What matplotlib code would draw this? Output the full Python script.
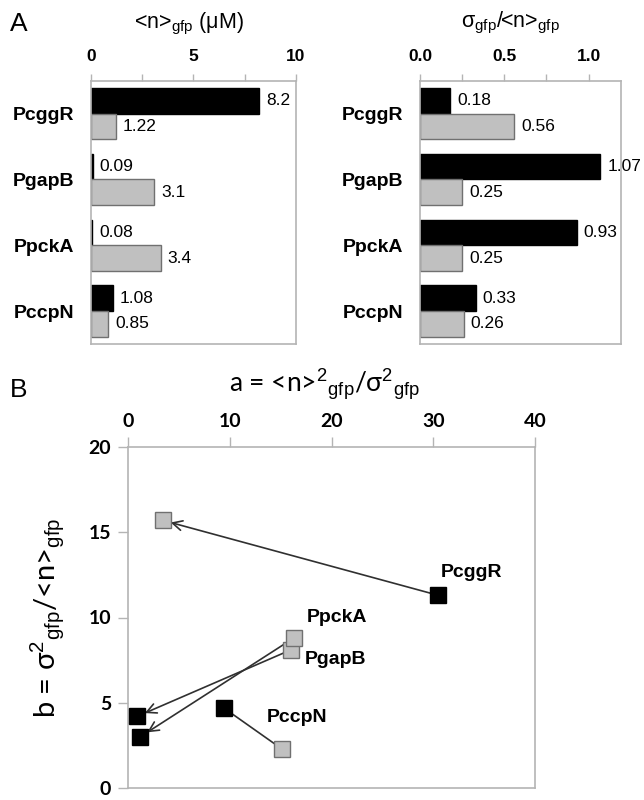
import matplotlib
matplotlib.use("Agg")
import matplotlib.pyplot as plt

plt.rcParams['font.family'] = ['Liberation Sans', 'DejaVu Sans']
plt.rcParams['mathtext.fontset'] = 'custom'
plt.rcParams['mathtext.rm'] = 'Liberation Sans'
plt.rcParams['mathtext.it'] = 'Liberation Sans:italic'
plt.rcParams['mathtext.bf'] = 'Liberation Sans:bold'

# Data ======================================================================
promoters = ['PcggR', 'PgapB', 'PpckA', 'PccpN']

mean_black = [8.2, 0.09, 0.08, 1.08]
mean_gray = [1.22, 3.1, 3.4, 0.85]
cv_black = [0.18, 1.07, 0.93, 0.33]
cv_gray = [0.56, 0.25, 0.25, 0.26]

a_black = [30.5, 0.9, 1.2, 9.4]
b_black = [11.3, 4.2, 3.0, 4.7]
a_gray = [3.4, 16.0, 16.3, 15.1]
b_gray = [15.7, 8.1, 8.8, 2.3]
arrow_to = ['gray', 'black', 'black', None]

# Style ======================================================================
BLACK = '#000000'
GRAY = '#c0c0c0'
GRAY_EDGE = '#707070'
SPINE = '#b4b4b4'
LAT = ['Lato', 'DejaVu Sans']

fig = plt.figure(figsize=(6.44, 8), dpi=100)
W, H = 644, 800

def px_axes(x0, y0, x1, y1):
    return fig.add_axes([x0/W, 1 - y1/H, (x1 - x0)/W, (y1 - y0)/H])

def style_box(ax):
    for s in ax.spines.values():
        s.set_color(SPINE)
        s.set_linewidth(1.2)
    ax.tick_params(colors=SPINE, labelcolor='black')

def bar_panel(ax, vb, vg, xmax, ticks, ticklabels):
    y = list(range(len(promoters)))
    h = 0.39
    cb = ax.barh([i - h/2 for i in y], vb, height=h, color=BLACK, edgecolor=BLACK, lw=1)
    cg = ax.barh([i + h/2 for i in y], vg, height=h, color=GRAY, edgecolor=GRAY_EDGE, lw=1)
    ax.bar_label(cb, labels=[str(v) for v in vb], padding=5, fontsize=12.5)
    ax.bar_label(cg, labels=[str(v) for v in vg], padding=5, fontsize=12.5)
    ax.set_ylim(len(promoters) - 0.5, -0.5)
    ax.set_xlim(0, xmax)
    ax.set_yticks(y)
    ax.set_yticklabels(promoters, fontsize=14, fontweight='bold')
    ax.tick_params(axis='y', length=0, pad=12)
    ax.xaxis.tick_top()
    ax.set_xticks(ticks)
    ax.set_xticklabels(ticklabels, fontsize=12.5, fontweight='bold')
    ax.tick_params(axis='x', direction='out', length=5, width=1, pad=7)
    style_box(ax)

# Panel A ======================================================================
axL = px_axes(90.7, 80.7, 296, 344)
bar_panel(axL, mean_black, mean_gray, 10, [0, 2.5, 5, 7.5, 10], ['0', '', '5', '', '10'])
axR = px_axes(420, 80.7, 620.7, 344)
bar_panel(axR, cv_black, cv_gray, 1.19, [0, 0.25, 0.5, 0.75, 1.0], ['0.0', '', '0.5', '', '1.0'])

fig.text(189/W, 1 - 28/H, r'<n>$_{\mathrm{gfp}}$ (μM)', ha='center', va='baseline', fontsize=15.5)
fig.text(510/W, 1 - 27/H, r'σ$_{\mathrm{gfp}}$/<n>$_{\mathrm{gfp}}$', ha='center', va='baseline', fontsize=15.5)
fig.text(10/W, 1 - 31/H, 'A', ha='left', va='baseline', fontsize=19)
fig.text(10/W, 1 - 397/H, 'B', ha='left', va='baseline', fontsize=19)

# Panel B ======================================================================
axB = px_axes(128, 447, 535, 788)
axB.set_xlim(0, 40)
axB.set_ylim(0, 20)
axB.xaxis.tick_top()
axB.set_xticks([0, 10, 20, 30, 40])
axB.set_yticks([0, 5, 10, 15, 20])
for lab in axB.get_xticklabels() + axB.get_yticklabels():
    lab.set_family(LAT)
    lab.set_fontweight('bold')
    lab.set_fontsize(14)
axB.tick_params(axis='both', direction='out', length=7, width=1, pad=5)
style_box(axB)

for i, name in enumerate(promoters):
    pb = (a_black[i], b_black[i])
    pg = (a_gray[i], b_gray[i])
    if arrow_to[i] == 'gray':
        start, end, style = pb, pg, '->,head_length=0.7,head_width=0.35'
    elif arrow_to[i] == 'black':
        start, end, style = pg, pb, '->,head_length=0.7,head_width=0.35'
    else:
        start, end, style = pb, pg, '-'
    axB.annotate('', xy=end, xytext=start,
                 arrowprops=dict(arrowstyle=style, color='#303030', lw=1.2,
                                 shrinkA=0, shrinkB=6), zorder=2)

axB.plot(a_black, b_black, 's', ms=11.5, mfc=BLACK, mec=BLACK, mew=1, ls='none', zorder=3)
axB.plot(a_gray, b_gray, 's', ms=11.5, mfc=GRAY, mec=GRAY_EDGE, mew=1, ls='none', zorder=3)

# label anchors (which point, offset in pixels)
label_pos = {
    'PcggR': ('black', 2, 23),
    'PpckA': ('gray', 13, 20),
    'PgapB': ('gray', 14, -10),
    'PccpN': ('gray', -15, 31),
}
for i, name in enumerate(promoters):
    which, dx, dy = label_pos[name]
    pt = (a_black[i], b_black[i]) if which == 'black' else (a_gray[i], b_gray[i])
    axB.annotate(name, xy=pt, xytext=(dx, dy), textcoords='offset pixels',
                 ha='left', va='center', fontsize=14, fontweight='bold')

axB.set_ylabel(r'b = σ$^{2}$$_{\mathrm{gfp}}$/<n>$_{\mathrm{gfp}}$', fontsize=21, family=LAT)
axB.yaxis.set_label_coords(-0.152, 0.5)
fig.text(324.5/W, 1 - 392/H, r'a = <n>$^{2}$$_{\mathrm{gfp}}$/σ$^{2}$$_{\mathrm{gfp}}$',
         ha='center', va='baseline', fontsize=19, family=LAT)

fig.savefig('out.png', dpi=100)
